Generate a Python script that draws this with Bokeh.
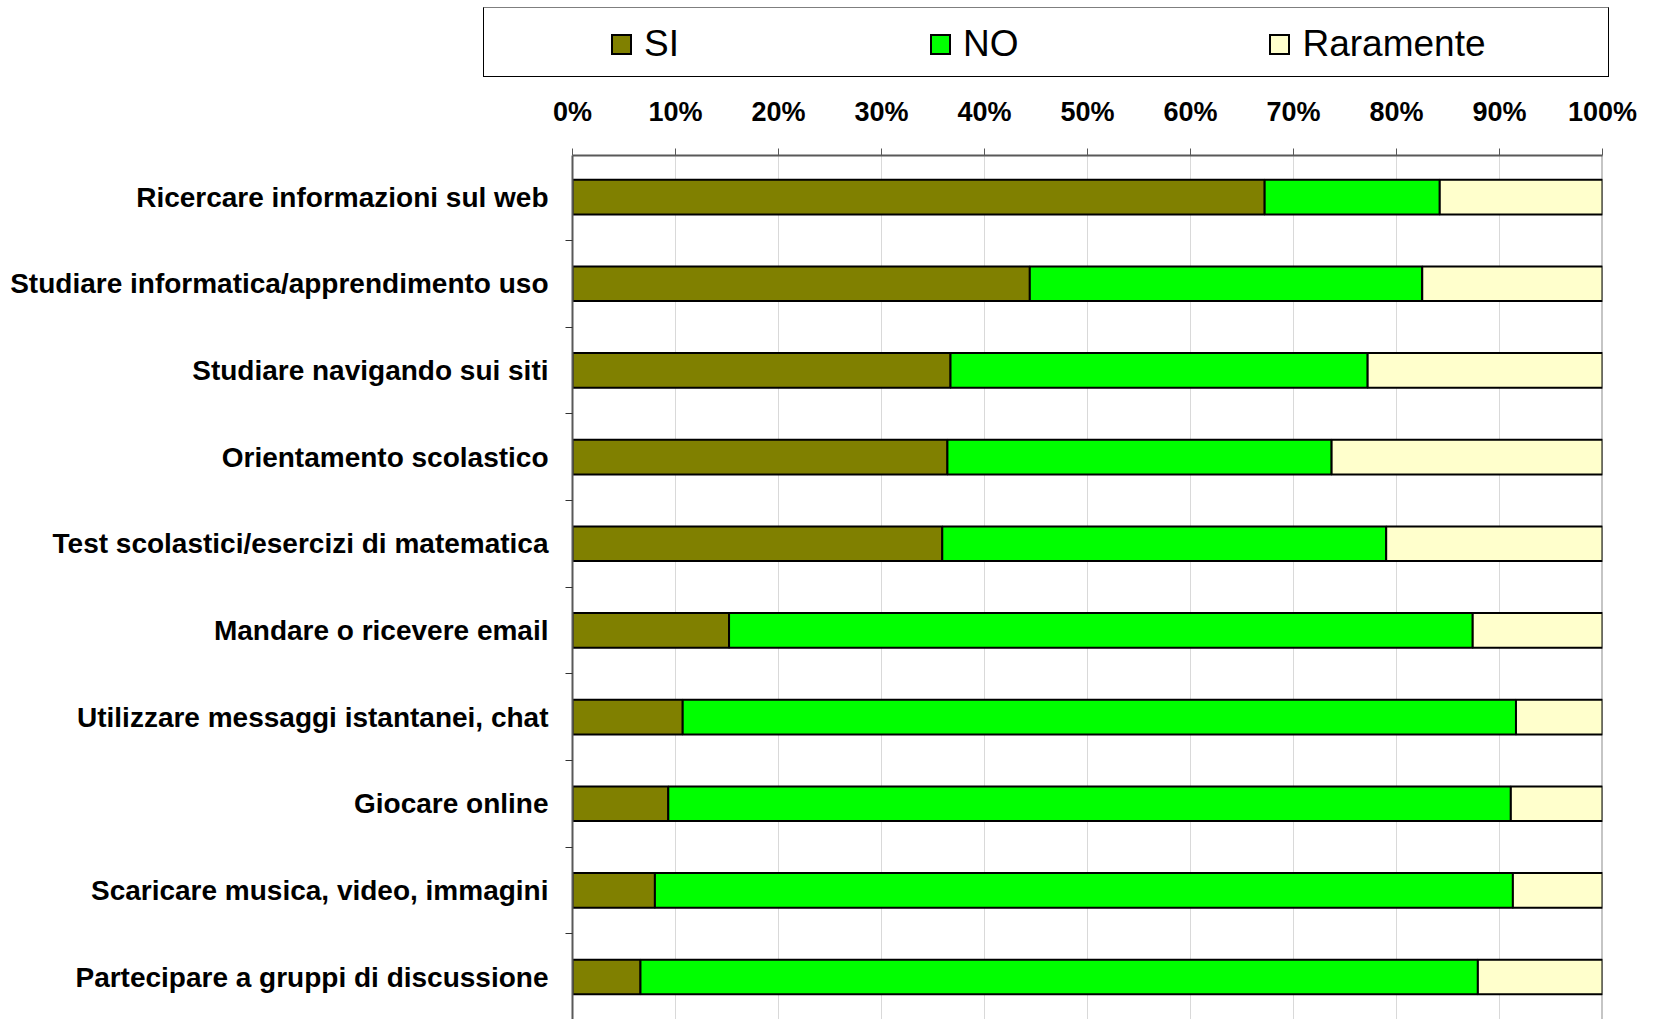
from bokeh.plotting import figure
from bokeh.layouts import column
from bokeh.models import (ColumnDataSource, Range1d, FixedTicker, Div,
                          Span, PrintfTickFormatter)
from bokeh.embed import file_html
from bokeh.resources import INLINE

# ---- data (percent) ----
categories = [
    "Ricercare informazioni sul web",
    "Studiare informatica/apprendimento uso",
    "Studiare navigando sui siti",
    "Orientamento scolastico",
    "Test scolastici/esercizi di matematica",
    "Mandare o ricevere email",
    "Utilizzare messaggi istantanei, chat",
    "Giocare online",
    "Scaricare musica, video, immagini",
    "Partecipare a gruppi di discussione",
]
si = [67.2, 44.4, 36.7, 36.4, 35.9, 15.2, 10.7, 9.3, 8.0, 6.6]
no = [17.0, 38.1, 40.5, 37.3, 43.1, 72.2, 80.9, 81.8, 83.3, 81.3]
raramente = [15.8, 17.5, 22.8, 26.3, 21.0, 12.6, 8.4, 8.9, 8.7, 12.1]
series = ["SI", "NO", "Raramente"]
colors = ["#808000", "#00ff00", "#ffffcc"]
x_ticks = [0, 10, 20, 30, 40, 50, 60, 70, 80, 90, 100]

FONT = "Liberation Sans"

centers = [i + 0.5 for i in range(len(categories))]
bounds = [float(i) for i in range(len(categories) + 1)]

source = ColumnDataSource(dict(y=centers, SI=si, NO=no, Raramente=raramente))

# ---------------- legend (boxed strip above the chart) ----------------
items_html = "".join(
    f'<span style="display:inline-flex;align-items:center;'
    f'margin-right:{0 if i == len(series) - 1 else 251}px">'
    f'<span style="display:inline-block;width:21px;height:21px;box-sizing:border-box;'
    f'border:2px solid #000;background:{c}"></span>'
    f'<span style="margin-left:12px;font-family:\'{FONT}\';font-size:37px;'
    f'line-height:40px;color:#000">{s}</span></span>'
    for i, (s, c) in enumerate(zip(series, colors))
)
legend_html = (
    '<div style="position:relative;width:1654px;height:84px;margin:0;padding:0">'
    '<div style="position:absolute;left:483px;top:7px;width:1126px;height:70px;'
    'box-sizing:border-box;border:1px solid #000;border-top-color:#7f7f7f;'
    'background:#fff;display:flex;align-items:center;padding-left:127px;'
    'padding-top:4px">'
    f'{items_html}</div></div>'
)
legend_div = Div(text=legend_html, width=1654, height=84, margin=0)

# ---------------- main chart ----------------
p = figure(width=1654, height=935, output_backend="svg", toolbar_location=None,
           x_range=Range1d(0, 100), y_range=Range1d(9.99, 0.02),
           x_axis_location="above",
           min_border_left=572, min_border_right=52, min_border_top=71,
           min_border_bottom=0)
p.outline_line_color = None
p.background_fill_color = "white"
p.border_fill_color = "white"

renderers = p.hbar_stack(series, y="y", height=0.4, color=colors, source=source,
                         line_color="black", line_width=2)

# grid
p.ygrid.visible = False
p.xgrid.ticker = FixedTicker(ticks=x_ticks[1:-1])
p.xgrid.grid_line_color = "#d9d9d9"
p.xgrid.grid_line_width = 1
p.xgrid.level = "underlay"
right_line = Span(location=100, dimension="height", line_color="#8c8c8c",
                  line_width=2, level="underlay")
p.add_layout(right_line)

# x axis (top)
xa = p.xaxis[0]
xa.ticker = FixedTicker(ticks=x_ticks)
xa.formatter = PrintfTickFormatter(format="%d%%")
xa.axis_line_color = "#595959"
xa.axis_line_width = 2
xa.major_tick_line_color = "#595959"
xa.major_tick_out = 7
xa.major_tick_in = 0
xa.minor_tick_line_color = None
xa.major_label_text_font = FONT
xa.major_label_text_font_style = "bold"
xa.major_label_text_font_size = "27px"
xa.major_label_text_color = "black"
xa.major_label_standoff = 22

# y axis (left)
ya = p.yaxis[0]
ya.ticker = FixedTicker(ticks=centers, minor_ticks=bounds)
ya.major_label_overrides = {c: lab for c, lab in zip(centers, categories)}
ya.axis_line_color = "#595959"
ya.axis_line_width = 2
ya.major_tick_out = 0
ya.major_tick_in = 0
ya.major_tick_line_color = None
ya.minor_tick_out = 7
ya.minor_tick_in = 0
ya.minor_tick_line_color = "#333333"
ya.major_label_text_font = FONT
ya.major_label_text_font_style = "bold"
ya.major_label_text_font_size = "28px"
ya.major_label_text_color = "black"
ya.major_label_standoff = 17

layout = column(legend_div, p, spacing=0)
open("out.html", "w").write(file_html(layout, INLINE))
